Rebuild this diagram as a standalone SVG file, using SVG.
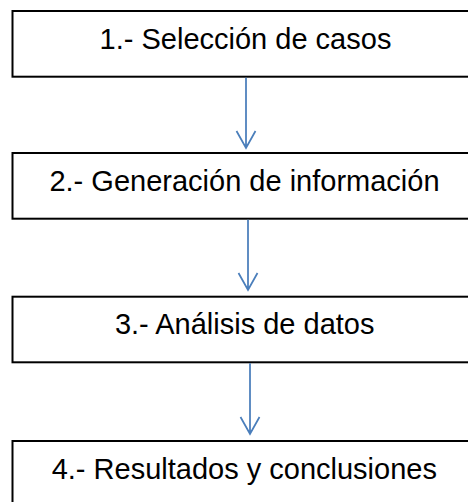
<svg xmlns="http://www.w3.org/2000/svg" width="468" height="502" viewBox="0 0 468 502">
<style>
.box{fill:#ffffff;stroke:#000000;stroke-width:2}
.lbl{font-family:"Liberation Sans",Arial,sans-serif;font-size:29px;fill:#000000;text-anchor:middle}
.conn{fill:none;stroke:#4a7ebb;stroke-width:1.75;stroke-linejoin:miter}
</style>
<rect width="468" height="502" fill="#ffffff"/>
<g id="node1"><rect class="box" x="12.5" y="11" width="470" height="65.7"/><text class="lbl" x="245.5" y="49.3">1.- Selección de casos</text></g>
<g id="node2"><rect class="box" x="12.5" y="153" width="470" height="65.7"/><text class="lbl" x="244.5" y="191">2.- Generación de información</text></g>
<g id="node3"><rect class="box" x="12.5" y="296.7" width="470" height="65.6"/><text class="lbl" x="244.7" y="334.3">3.- Análisis de datos</text></g>
<g id="node4"><rect class="box" x="12.5" y="441" width="470" height="80"/><text class="lbl" x="244.3" y="479.3">4.- Resultados y conclusiones</text></g>
<g id="connectors">
<path class="conn" d="M246,77.7 V148 M236.5,131 L246,148 L255.5,131"/>
<path class="conn" d="M248,219.7 V290 M238.5,273 L248,290 L257.5,273"/>
<path class="conn" d="M250,363.3 V434 M240.5,417 L250,434 L259.5,417"/>
</g>
</svg>
